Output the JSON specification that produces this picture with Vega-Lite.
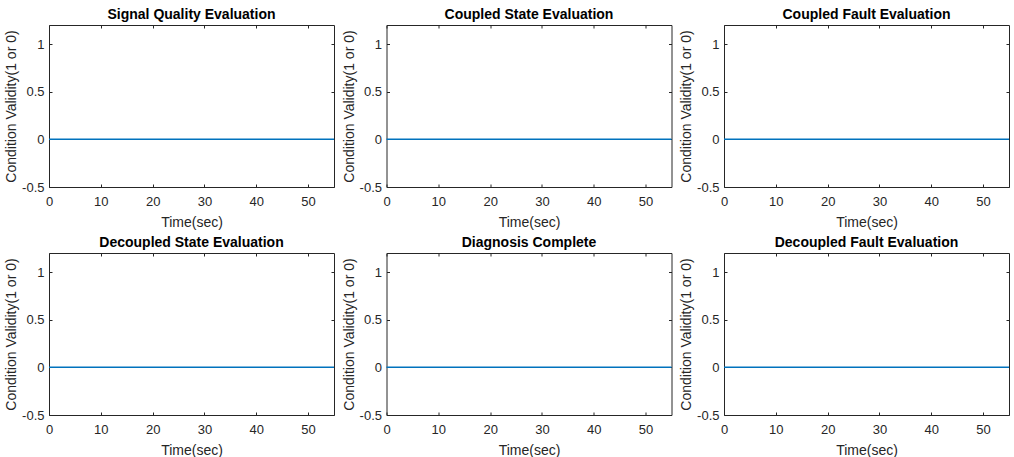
{
  "$schema": "https://vega.github.io/schema/vega-lite/v6.json",
  "background": "white",
  "padding": {"left": 4, "top": 7, "right": 4, "bottom": 2},
  "datasets": {
    "validity": [
      {"panel": "Signal Quality Evaluation", "time": 0, "valid": 0},
      {"panel": "Signal Quality Evaluation", "time": 55, "valid": 0},
      {"panel": "Coupled State Evaluation", "time": 0, "valid": 0},
      {"panel": "Coupled State Evaluation", "time": 55, "valid": 0},
      {"panel": "Coupled Fault Evaluation", "time": 0, "valid": 0},
      {"panel": "Coupled Fault Evaluation", "time": 55, "valid": 0},
      {"panel": "Decoupled State Evaluation", "time": 0, "valid": 0},
      {"panel": "Decoupled State Evaluation", "time": 55, "valid": 0},
      {"panel": "Diagnosis Complete", "time": 0, "valid": 0},
      {"panel": "Diagnosis Complete", "time": 55, "valid": 0},
      {"panel": "Decoupled Fault Evaluation", "time": 0, "valid": 0},
      {"panel": "Decoupled Fault Evaluation", "time": 55, "valid": 0}
    ]
  },
  "columns": 3,
  "spacing": {"column": 52.5, "row": 66},
  "bounds": "flush",
  "config": {
    "font": "Liberation Sans",
    "view": {"stroke": "#262626", "strokeWidth": 1},
    "title": {"fontSize": 14, "fontWeight": "bold", "color": "#000000", "offset": 3},
    "axis": {
      "grid": false,
      "domain": false,
      "tickColor": "#262626",
      "tickSize": -3,
      "labelColor": "#262626",
      "labelFontSize": 13,
      "labelFont": "Liberation Sans",
      "titleFont": "Liberation Sans",
      "titleFontSize": 14,
      "titleFontWeight": "normal",
      "titleColor": "#262626",
      "labelFlush": false,
      "labelOverlap": false,
      "labelExpr": "'' + datum.value"
    }
  },
  "concat": [
    {
      "title": "Signal Quality Evaluation",
      "width": 285, "height": 162,
      "data": {"name": "validity"},
      "transform": [{"filter": "datum.panel === 'Signal Quality Evaluation'"}],
      "layer": [
        {"mark": {"type": "line", "color": "#0072BD", "strokeWidth": 1.5},
         "encoding": {
           "x": {"field": "time", "type": "quantitative", "scale": {"domain": [0, 55], "nice": false}, "axis": {"values": [0, 10, 20, 30, 40, 50], "title": "Time(sec)", "labelPadding": 11, "titlePadding": 7}},
           "y": {"field": "valid", "type": "quantitative", "scale": {"domain": [-0.5, 1.2], "nice": false, "zero": false}, "axis": {"values": [-0.5, 0, 0.5, 1], "title": "Condition Validity(1 or 0)", "labelPadding": 8, "titlePadding": 3}}
         }},
        {"mark": {"type": "line", "opacity": 0},
         "encoding": {
           "x": {"field": "time", "type": "quantitative", "scale": {"domain": [0, 55], "nice": false}, "axis": {"orient": "top", "values": [0, 10, 20, 30, 40, 50], "labels": false, "title": null}},
           "y": {"field": "valid", "type": "quantitative", "scale": {"domain": [-0.5, 1.2], "nice": false, "zero": false}, "axis": {"orient": "right", "values": [-0.5, 0, 0.5, 1], "labels": false, "title": null}}
         }}
      ],
      "resolve": {"axis": {"x": "independent", "y": "independent"}}
    },
    {
      "title": "Coupled State Evaluation",
      "width": 285, "height": 162,
      "data": {"name": "validity"},
      "transform": [{"filter": "datum.panel === 'Coupled State Evaluation'"}],
      "layer": [
        {"mark": {"type": "line", "color": "#0072BD", "strokeWidth": 1.5},
         "encoding": {
           "x": {"field": "time", "type": "quantitative", "scale": {"domain": [0, 55], "nice": false}, "axis": {"values": [0, 10, 20, 30, 40, 50], "title": "Time(sec)", "labelPadding": 11, "titlePadding": 7}},
           "y": {"field": "valid", "type": "quantitative", "scale": {"domain": [-0.5, 1.2], "nice": false, "zero": false}, "axis": {"values": [-0.5, 0, 0.5, 1], "title": "Condition Validity(1 or 0)", "labelPadding": 8, "titlePadding": 3}}
         }},
        {"mark": {"type": "line", "opacity": 0},
         "encoding": {
           "x": {"field": "time", "type": "quantitative", "scale": {"domain": [0, 55], "nice": false}, "axis": {"orient": "top", "values": [0, 10, 20, 30, 40, 50], "labels": false, "title": null}},
           "y": {"field": "valid", "type": "quantitative", "scale": {"domain": [-0.5, 1.2], "nice": false, "zero": false}, "axis": {"orient": "right", "values": [-0.5, 0, 0.5, 1], "labels": false, "title": null}}
         }}
      ],
      "resolve": {"axis": {"x": "independent", "y": "independent"}}
    },
    {
      "title": "Coupled Fault Evaluation",
      "width": 285, "height": 162,
      "data": {"name": "validity"},
      "transform": [{"filter": "datum.panel === 'Coupled Fault Evaluation'"}],
      "layer": [
        {"mark": {"type": "line", "color": "#0072BD", "strokeWidth": 1.5},
         "encoding": {
           "x": {"field": "time", "type": "quantitative", "scale": {"domain": [0, 55], "nice": false}, "axis": {"values": [0, 10, 20, 30, 40, 50], "title": "Time(sec)", "labelPadding": 11, "titlePadding": 7}},
           "y": {"field": "valid", "type": "quantitative", "scale": {"domain": [-0.5, 1.2], "nice": false, "zero": false}, "axis": {"values": [-0.5, 0, 0.5, 1], "title": "Condition Validity(1 or 0)", "labelPadding": 8, "titlePadding": 3}}
         }},
        {"mark": {"type": "line", "opacity": 0},
         "encoding": {
           "x": {"field": "time", "type": "quantitative", "scale": {"domain": [0, 55], "nice": false}, "axis": {"orient": "top", "values": [0, 10, 20, 30, 40, 50], "labels": false, "title": null}},
           "y": {"field": "valid", "type": "quantitative", "scale": {"domain": [-0.5, 1.2], "nice": false, "zero": false}, "axis": {"orient": "right", "values": [-0.5, 0, 0.5, 1], "labels": false, "title": null}}
         }}
      ],
      "resolve": {"axis": {"x": "independent", "y": "independent"}}
    },
    {
      "title": "Decoupled State Evaluation",
      "width": 285, "height": 162,
      "data": {"name": "validity"},
      "transform": [{"filter": "datum.panel === 'Decoupled State Evaluation'"}],
      "layer": [
        {"mark": {"type": "line", "color": "#0072BD", "strokeWidth": 1.5},
         "encoding": {
           "x": {"field": "time", "type": "quantitative", "scale": {"domain": [0, 55], "nice": false}, "axis": {"values": [0, 10, 20, 30, 40, 50], "title": "Time(sec)", "labelPadding": 11, "titlePadding": 7}},
           "y": {"field": "valid", "type": "quantitative", "scale": {"domain": [-0.5, 1.2], "nice": false, "zero": false}, "axis": {"values": [-0.5, 0, 0.5, 1], "title": "Condition Validity(1 or 0)", "labelPadding": 8, "titlePadding": 3}}
         }},
        {"mark": {"type": "line", "opacity": 0},
         "encoding": {
           "x": {"field": "time", "type": "quantitative", "scale": {"domain": [0, 55], "nice": false}, "axis": {"orient": "top", "values": [0, 10, 20, 30, 40, 50], "labels": false, "title": null}},
           "y": {"field": "valid", "type": "quantitative", "scale": {"domain": [-0.5, 1.2], "nice": false, "zero": false}, "axis": {"orient": "right", "values": [-0.5, 0, 0.5, 1], "labels": false, "title": null}}
         }}
      ],
      "resolve": {"axis": {"x": "independent", "y": "independent"}}
    },
    {
      "title": "Diagnosis Complete",
      "width": 285, "height": 162,
      "data": {"name": "validity"},
      "transform": [{"filter": "datum.panel === 'Diagnosis Complete'"}],
      "layer": [
        {"mark": {"type": "line", "color": "#0072BD", "strokeWidth": 1.5},
         "encoding": {
           "x": {"field": "time", "type": "quantitative", "scale": {"domain": [0, 55], "nice": false}, "axis": {"values": [0, 10, 20, 30, 40, 50], "title": "Time(sec)", "labelPadding": 11, "titlePadding": 7}},
           "y": {"field": "valid", "type": "quantitative", "scale": {"domain": [-0.5, 1.2], "nice": false, "zero": false}, "axis": {"values": [-0.5, 0, 0.5, 1], "title": "Condition Validity(1 or 0)", "labelPadding": 8, "titlePadding": 3}}
         }},
        {"mark": {"type": "line", "opacity": 0},
         "encoding": {
           "x": {"field": "time", "type": "quantitative", "scale": {"domain": [0, 55], "nice": false}, "axis": {"orient": "top", "values": [0, 10, 20, 30, 40, 50], "labels": false, "title": null}},
           "y": {"field": "valid", "type": "quantitative", "scale": {"domain": [-0.5, 1.2], "nice": false, "zero": false}, "axis": {"orient": "right", "values": [-0.5, 0, 0.5, 1], "labels": false, "title": null}}
         }}
      ],
      "resolve": {"axis": {"x": "independent", "y": "independent"}}
    },
    {
      "title": "Decoupled Fault Evaluation",
      "width": 285, "height": 162,
      "data": {"name": "validity"},
      "transform": [{"filter": "datum.panel === 'Decoupled Fault Evaluation'"}],
      "layer": [
        {"mark": {"type": "line", "color": "#0072BD", "strokeWidth": 1.5},
         "encoding": {
           "x": {"field": "time", "type": "quantitative", "scale": {"domain": [0, 55], "nice": false}, "axis": {"values": [0, 10, 20, 30, 40, 50], "title": "Time(sec)", "labelPadding": 11, "titlePadding": 7}},
           "y": {"field": "valid", "type": "quantitative", "scale": {"domain": [-0.5, 1.2], "nice": false, "zero": false}, "axis": {"values": [-0.5, 0, 0.5, 1], "title": "Condition Validity(1 or 0)", "labelPadding": 8, "titlePadding": 3}}
         }},
        {"mark": {"type": "line", "opacity": 0},
         "encoding": {
           "x": {"field": "time", "type": "quantitative", "scale": {"domain": [0, 55], "nice": false}, "axis": {"orient": "top", "values": [0, 10, 20, 30, 40, 50], "labels": false, "title": null}},
           "y": {"field": "valid", "type": "quantitative", "scale": {"domain": [-0.5, 1.2], "nice": false, "zero": false}, "axis": {"orient": "right", "values": [-0.5, 0, 0.5, 1], "labels": false, "title": null}}
         }}
      ],
      "resolve": {"axis": {"x": "independent", "y": "independent"}}
    }
  ]
}
